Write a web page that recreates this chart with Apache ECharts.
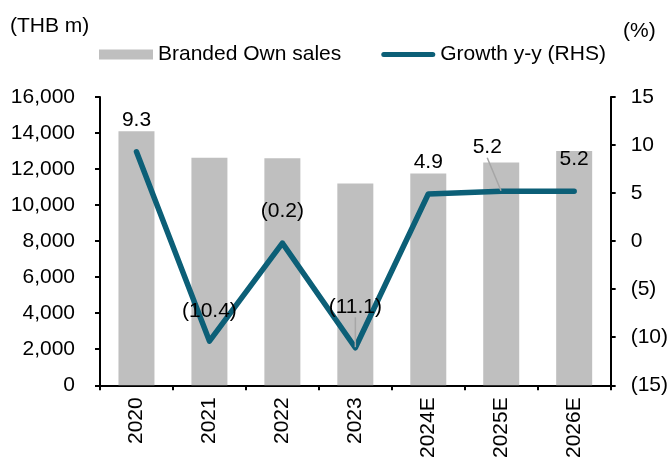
<!DOCTYPE html>
<html>
<head>
<meta charset="utf-8">
<script src="https://cdn.jsdelivr.net/npm/echarts@6/dist/echarts.min.js"></script>
<style>
  html, body { margin: 0; padding: 0; background: #fff; }
  #chart { width: 671px; height: 461px; }
</style>
</head>
<body>
<div id="chart"></div>
<script>
const categories = ['2020', '2021', '2022', '2023', '2024E', '2025E', '2026E']
const brandedSales = [14100, 12630, 12600, 11200, 11750, 12360, 13000]
const growth = [9.3, -10.4, -0.2, -11.1, 4.9, 5.2, 5.2]
const leftTicks = { min: 0, max: 16000, interval: 2000 }
const rightTicks = { min: -15, max: 15, interval: 5 }

const font = 'Liberation Sans, Arial, sans-serif'
const fontSize = 21
const lineColor = '#0c5f77'
const barColor = '#bfbfbf'

// 标签偏移 (dx, dy) 与是否画引线
const labelShift = [[0, 0], [0, 2], [0, 0], [0, -9], [0, 0], [-14, -12], [0, 0]]
const leaderLine = [false, false, false, true, false, true, false]

const fmtPct = v => v < 0 ? '(' + Math.abs(v).toFixed(1) + ')' : v.toFixed(1)
const fmtAxisPct = v => v < 0 ? '(' + Math.abs(v) + ')' : String(v)

const chart = echarts.init(document.getElementById('chart'), null, { renderer: 'canvas' })

chart.setOption({
  animation: false,
  textStyle: { fontFamily: font },
  grid: { left: 100, right: 58, top: 97, bottom: 74 },
  legend: {
    top: 39,
    left: 94,
    itemGap: 40,
    itemWidth: 54,
    itemHeight: 10,
    textStyle: { fontSize: fontSize, color: '#000', fontFamily: font },
    data: [
      { name: 'Branded Own sales', icon: 'rect' },
      { name: 'Growth y-y (RHS)', icon: 'path://M2.5,0L51.5,0A2.5,2.5,0,0,1,51.5,5L2.5,5A2.5,2.5,0,0,1,2.5,0Z' }
    ]
  },
  graphic: [
    { type: 'text', left: 10, top: 16, style: { text: '(THB m)', fontSize: fontSize, fill: '#000', fontFamily: font } },
    { type: 'text', left: 623, top: 21, style: { text: '(%)', fontSize: fontSize, fill: '#000', fontFamily: font } }
  ],
  xAxis: {
    type: 'category',
    data: categories,
    axisLine: { lineStyle: { color: '#000', width: 2 } },
    axisTick: { show: true, length: 5, lineStyle: { color: '#000', width: 2 } },
    axisLabel: { rotate: 90, fontSize: fontSize, color: '#000', margin: 12, fontFamily: font }
  },
  yAxis: [
    {
      type: 'value',
      min: leftTicks.min, max: leftTicks.max, interval: leftTicks.interval,
      splitLine: { show: false },
      axisLine: { show: true, lineStyle: { color: '#000', width: 2 } },
      axisTick: { show: true, length: 5, lineStyle: { color: '#000', width: 2 } },
      axisLabel: {
        fontSize: fontSize, color: '#000', margin: 25, fontFamily: font,
        formatter: v => v.toLocaleString('en-US')
      }
    },
    {
      type: 'value',
      min: rightTicks.min, max: rightTicks.max, interval: rightTicks.interval,
      splitLine: { show: false },
      axisLine: { show: true, lineStyle: { color: '#000', width: 2 } },
      axisTick: { show: true, length: 5, lineStyle: { color: '#000', width: 2 } },
      axisLabel: { fontSize: fontSize, color: '#000', margin: 20, fontFamily: font, formatter: fmtAxisPct }
    }
  ],
  series: [
    {
      name: 'Branded Own sales',
      type: 'bar',
      data: brandedSales,
      barWidth: 36,
      itemStyle: { color: barColor },
      z: 1
    },
    {
      name: 'Growth y-y (RHS)',
      type: 'line',
      yAxisIndex: 1,
      data: growth.map((v, i) => ({
        value: v,
        labelLine: { show: leaderLine[i] }
      })),
      symbol: 'circle',
      symbolSize: 1,
      showSymbol: true,
      lineStyle: { color: lineColor, width: 5.5, cap: 'round', join: 'round' },
      itemStyle: { color: lineColor },
      label: {
        show: true,
        position: 'top',
        distance: 21,
        fontSize: fontSize,
        color: '#000',
        fontFamily: font,
        formatter: p => fmtPct(p.value)
      },
      labelLine: { show: false, lineStyle: { color: '#a6a6a6', width: 1.5 } },
      labelLayout: p => {
        const s = labelShift[p.dataIndex]
        return { dx: s[0], dy: s[1] }
      },
      z: 3
    }
  ]
})
</script>
</body>
</html>
